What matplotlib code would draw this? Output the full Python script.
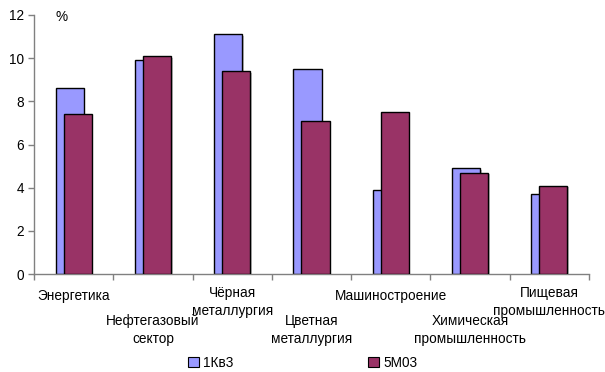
import numpy as np
import matplotlib.pyplot as plt
import matplotlib.patheffects as pe
from matplotlib.patches import Rectangle

plt.rcParams['font.family'] = ['Liberation Sans', 'DejaVu Sans']

sectors = ['Энергетика', 'Нефтегазовый\nсектор', 'Чёрная\nметаллургия', 'Цветная\nметаллургия',
           'Машиностроение', 'Химическая\nпромышленность', 'Пищевая\nпромышленность']
q1 = [8.6, 9.9, 11.1, 9.5, 3.9, 4.9, 3.7]
m5 = [7.4, 10.1, 9.4, 7.1, 7.5, 4.7, 4.1]
series_names = ['1Кв3', '5М03']
colors = ['#9999FF', '#993366']

fig = plt.figure(figsize=(6.05, 3.72), dpi=100)
ax = fig.add_axes([34 / 605, 98 / 372, 555 / 605, 259 / 372])

x = np.arange(len(sectors))
w = 0.355
shadow = [pe.SimplePatchShadow(offset=(1.2, -1.2), shadow_rgbFace='#999999', alpha=0.6), pe.Normal()]
ax.bar(x - 0.05, q1, w, color=colors[0], edgecolor='black', linewidth=1, path_effects=shadow, zorder=2)
ax.bar(x + 0.05, m5, w, color=colors[1], edgecolor='black', linewidth=1, path_effects=shadow, zorder=3)

ax.set_xlim(-0.5, len(sectors) - 0.5)
ax.set_ylim(0, 12)
ax.set_yticks(range(0, 13, 2))
ax.set_xticks(np.arange(len(sectors) + 1) - 0.5)
ax.set_xticklabels([])
for s in ['top', 'right']:
    ax.spines[s].set_visible(False)
for s in ['left', 'bottom']:
    ax.spines[s].set_color('#808080')
    ax.spines[s].set_linewidth(1)
ax.tick_params(axis='both', direction='out', length=4, color='#808080', width=1, labelsize=9.8)
ax.tick_params(axis='y', pad=3)

# category labels staggered on two rows
for i, name in enumerate(sectors):
    two_lines = '\n' in name
    if i % 2 == 1:
        y, va = -40, 'top'
    elif two_lines:
        y, va = -12, 'top'
    else:
        y, va = -22, 'center'
    ax.annotate(name, (x[i], 0), xycoords='data', xytext=(0, y), textcoords='offset pixels',
                ha='center', va=va, fontsize=9.8, linespacing=1.33, annotation_clip=False)

ax.text(62 / 605, 1 - 17 / 372, '%', transform=fig.transFigure, fontsize=9.8, ha='center', va='center')

# legend below the plot
handles = [Rectangle((0, 0), 1, 1, facecolor=c, edgecolor='black', linewidth=0.8) for c in colors]
for h, name, left in zip(handles, series_names, [188, 368]):
    fig.legend([h], [name], loc='center left', bbox_to_anchor=(left / 605, 1 - 363 / 372),
               frameon=False, fontsize=9.8, handlelength=0.8, handleheight=0.8, handletextpad=0.3,
               borderaxespad=0, borderpad=0)

fig.savefig('out.png', dpi=100)
